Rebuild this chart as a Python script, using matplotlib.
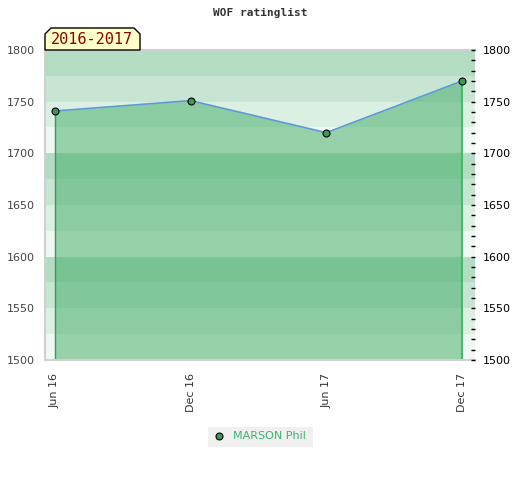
import matplotlib
matplotlib.use("Agg")
import matplotlib.pyplot as plt
from matplotlib.patches import Polygon, Rectangle
from matplotlib.ticker import MultipleLocator
import numpy as np

months = ["Jun 16", "Dec 16", "Jun 17", "Dec 17"]
ratings = [1741, 1751, 1720, 1770]
player = "MARSON Phil"
period = "2016-2017"
title = "WOF ratinglist"

ymin, ymax = 1500, 1800
band_colors = ["#f0f8f3", "#dcefe3", "#c8e5d4", "#b3dcc3"]

fig = plt.figure(figsize=(5.2, 4.8), dpi=100)
ax = fig.add_axes([45/520, 120/480, 430/520, 310/480])
x = np.arange(len(months))

# background bands
for i, lo in enumerate(range(ymin, ymax, 25)):
    ax.axhspan(lo, lo + 25, color=band_colors[i % 4], lw=0, zorder=0)

ax.fill_between(x, ratings, ymin, color=(0.24, 0.67, 0.39), alpha=0.5, lw=0, zorder=1)
ax.vlines(x[0], ymin, ratings[0], color="#3a9a5a", lw=1, zorder=2)
ax.vlines(x[-1], ymin, ratings[-1], color="#2eb85c", lw=1.2, zorder=2)
ax.plot(x, ratings, color="#5b9bd5", lw=1.2, zorder=3)
ax.plot(x, ratings, "o", ms=5, mfc="#3a9a5a", mec="black", mew=0.8, zorder=4)

ax.set_xlim(-0.074, 3.096)
ax.set_ylim(ymin, ymax)
ax.set_xticks(x)
ax.set_xticklabels(months, rotation=90, fontsize=8, color="#333333")
ax.tick_params(axis="x", length=0, pad=9)
ax.set_yticks(range(ymin, ymax + 1, 50))
ax.tick_params(axis="y", length=0, labelsize=8, labelcolor="#444444", pad=7.5)
for s in ["left", "bottom", "top"]:
    ax.spines[s].set_color("#d0d0d0")
    ax.spines[s].set_linewidth(1.5)
ax.spines["right"].set_visible(False)

ax2 = ax.twinx()
ax2.set_ylim(ymin, ymax)
ax2.yaxis.set_major_locator(MultipleLocator(50))
ax2.yaxis.set_minor_locator(MultipleLocator(10))
ax2.tick_params(axis="y", which="both", direction="in", length=3, width=1, color="black",
                labelsize=8, labelcolor="black", pad=5.5)
for s in ax2.spines.values():
    s.set_visible(False)

fig.text(0.5, 1 - 13/480, title, ha="center", va="center", fontsize=8,
         family="DejaVu Sans Mono", fontweight="bold", color="#333333")

# period label
W, H = 520, 480
pts = [(45, 50), (45, 34), (51, 28), (134, 28), (140, 34), (140, 50)]
poly = Polygon([(px / W, 1 - py / H) for px, py in pts], closed=True,
               transform=fig.transFigure, facecolor="#ffffcc", edgecolor="black", lw=1, zorder=5)
fig.patches.append(poly)
fig.text(92/W, 1 - 40/H, period, ha="center", va="center", fontsize=11,
         family="DejaVu Sans Mono", color="#8b0000", zorder=6)

# legend
leg_rect = Rectangle((208/W, 1 - 447/H), 105/W, 20/H, transform=fig.transFigure,
                     facecolor="#f0f0f0", edgecolor="none")
fig.patches.append(leg_rect)
fig.lines.append(plt.Line2D([219/W], [1 - 436/H], marker="o", ms=5, mfc="#3a9a5a", mec="black",
                            mew=0.8, transform=fig.transFigure))
fig.text(233/W, 1 - 436/H, player, ha="left", va="center", fontsize=8, color="#3cb371")

fig.savefig("out.png", dpi=100)
